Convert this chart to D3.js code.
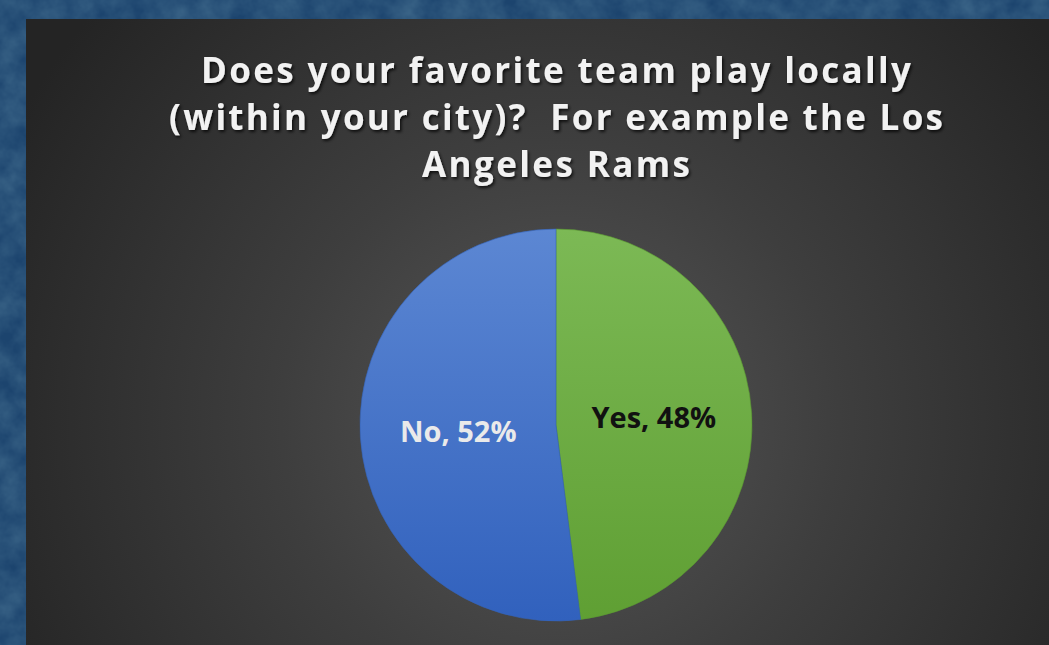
<!DOCTYPE html>
<html>
<head>
<meta charset="utf-8">
<script src="https://cdn.jsdelivr.net/npm/d3@7"></script>
<style>
  html, body { margin: 0; padding: 0; background: #1a406a; }
  svg { display: block; }
</style>
</head>
<body>
<svg id="chart" width="1049" height="645"></svg>
<script>
// Survey answers and their shares
const categories = ["Yes", "No"];
const shares = [48, 52];
const titleLines = [
  "Does your favorite team play locally",
  "(within your city)?  For example the Los",
  "Angeles Rams"
];

const W = 1049, H = 645;
const svg = d3.select("#chart");
const defs = svg.append("defs");

// Mottled blue backdrop: darker blotches over a mid blue
const tex = defs.append("filter").attr("id", "mottle")
  .attr("x", 0).attr("y", 0).attr("width", 1).attr("height", 1);
tex.append("feTurbulence").attr("type", "fractalNoise")
  .attr("baseFrequency", 0.04).attr("numOctaves", 4).attr("seed", 7).attr("result", "n");
tex.append("feColorMatrix").attr("in", "n").attr("type", "matrix")
  .attr("values", "0 0 0 0 0.07  0 0 0 0 0.18  0 0 0 0 0.30  0.9 0 0 0 -0.2");
svg.append("rect").attr("width", W).attr("height", H).attr("fill", "#1c446e");
svg.append("rect").attr("width", W).attr("height", H).attr("filter", "url(#mottle)");

// Dark chart panel with a soft radial glow behind the pie
const glow = defs.append("radialGradient").attr("id", "panelGlow")
  .attr("gradientUnits", "userSpaceOnUse")
  .attr("cx", 560).attr("cy", 420).attr("r", 620);
glow.append("stop").attr("offset", 0).attr("stop-color", "#575757");
glow.append("stop").attr("offset", 0.45).attr("stop-color", "#3e3e3e");
glow.append("stop").attr("offset", 1).attr("stop-color", "#242424");

const panel = { x: 26, y: 19 };
svg.append("rect")
  .attr("x", panel.x).attr("y", panel.y)
  .attr("width", W - panel.x).attr("height", H - panel.y)
  .attr("fill", "url(#panelGlow)");

// Title with drop shadow
const shadow = defs.append("filter").attr("id", "titleShadow")
  .attr("x", "-5%").attr("y", "-20%").attr("width", "110%").attr("height", "150%");
shadow.append("feDropShadow").attr("dx", 1.5).attr("dy", 2).attr("stdDeviation", 1.4)
  .attr("flood-color", "#000").attr("flood-opacity", 0.75);

const titleBaselines = [83, 130, 177];
const titleWidths = [710, 774, 268];
svg.append("g").attr("filter", "url(#titleShadow)")
  .selectAll("text").data(titleLines).join("text")
  .attr("x", 556)
  .attr("y", (d, i) => titleBaselines[i])
  .attr("text-anchor", "middle")
  .attr("textLength", (d, i) => titleWidths[i])
  .attr("lengthAdjust", "spacing")
  .style("white-space", "pre")
  .attr("font-family", "'Open Sans', sans-serif")
  .attr("font-weight", 700)
  .attr("font-size", 35)
  .attr("fill", "#f2f2f2")
  .text(d => d);

// Pie
const cx = 556, cy = 425, r = 196;
const fills = {
  Yes: ["#7cb955", "#5f9f33"],
  No:  ["#5c87d3", "#3161bd"]
};
categories.forEach(c => {
  const g = defs.append("linearGradient").attr("id", "grad" + c)
    .attr("gradientUnits", "userSpaceOnUse")
    .attr("x1", 0).attr("y1", -r).attr("x2", 0).attr("y2", r);
  g.append("stop").attr("offset", 0).attr("stop-color", fills[c][0]);
  g.append("stop").attr("offset", 1).attr("stop-color", fills[c][1]);
});

const data = categories.map((c, i) => ({ name: c, value: shares[i] }));
const pie = d3.pie().sort(null).value(d => d.value);
const arc = d3.arc().innerRadius(0).outerRadius(r);
const arcs = pie(data);

const pg = svg.append("g").attr("transform", `translate(${cx},${cy})`);
pg.selectAll("path").data(arcs).join("path")
  .attr("d", arc)
  .attr("fill", d => `url(#grad${d.data.name})`)
  .attr("stroke", d => d.data.name === "Yes" ? "#5a9a30" : "#3463b8")
  .attr("stroke-width", 0.6);

// Data labels at the slice centroids
const labelColor = { Yes: "#111111", No: "#eaeaea" };
pg.selectAll("text").data(arcs).join("text")
  .attr("x", d => arc.centroid(d)[0])
  .attr("y", d => arc.centroid(d)[1])
  .attr("dy", d => d.data.name === "Yes" ? "0.3em" : "0.36em")
  .attr("text-anchor", "middle")
  .attr("font-family", "'Open Sans', sans-serif")
  .attr("font-weight", 700)
  .attr("font-size", 29)
  .attr("fill", d => labelColor[d.data.name])
  .text(d => `${d.data.name}, ${d.data.value}%`);
</script>
</body>
</html>
